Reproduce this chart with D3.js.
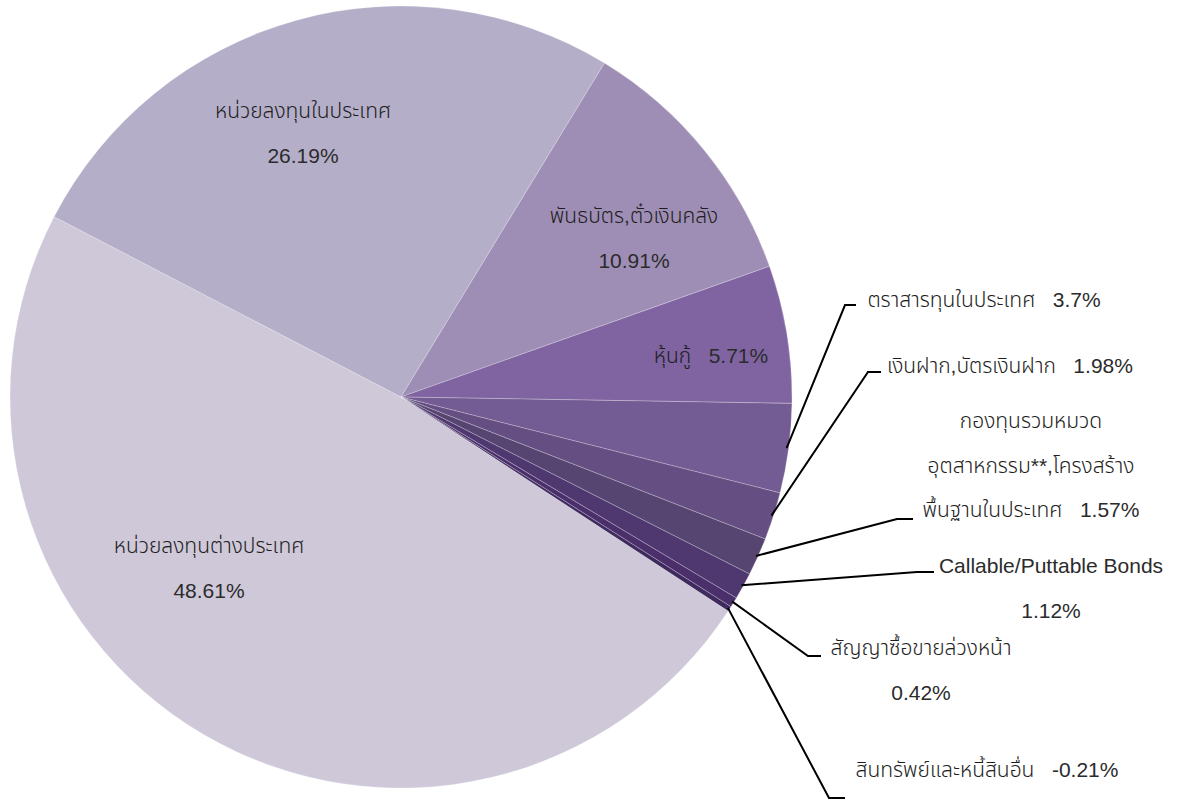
<!DOCTYPE html>
<html>
<head>
<meta charset="utf-8">
<script src="https://cdn.jsdelivr.net/npm/d3@7"></script>
<style>
  body { margin: 0; background: #fff; }
  text { font-family: "Liberation Sans", "Noto Sans Thai", "Noto Sans", sans-serif; font-size: 21px; font-weight: normal; fill: #2b2b2b; white-space: pre; }
  tspan.th { font-family: "Noto Sans Thai", "Liberation Sans", sans-serif; font-weight: 300; fill: #1e1e1e; }
</style>
</head>
<body>
<svg id="chart" width="1178" height="800"></svg>
<script>
// data
var names = ["หน่วยลงทุนต่างประเทศ", "หน่วยลงทุนในประเทศ", "พันธบัตร,ตั๋วเงินคลัง", "หุ้นกู้",
             "ตราสารทุนในประเทศ", "เงินฝาก,บัตรเงินฝาก", "กองทุนรวมหมวดอุตสาหกรรม**,โครงสร้างพื้นฐานในประเทศ",
             "Callable/Puttable Bonds", "สัญญาซื้อขายล่วงหน้า", "สินทรัพย์และหนี้สินอื่น"];
var values = [48.61, 26.19, 10.91, 5.71, 3.7, 1.98, 1.57, 1.12, 0.42, -0.21];
var colors = ["#cec8d9", "#b5aec9", "#9e8eb5", "#7f64a1", "#735b93", "#654f82", "#574571", "#4f3770", "#4b2f6b", "#3e2a5e"];

// label layout (text lines per slice)
var labelLines = [
  ["หน่วยลงทุนต่างประเทศ", "48.61%"],
  ["หน่วยลงทุนในประเทศ", "26.19%"],
  ["พันธบัตร,ตั๋วเงินคลัง", "10.91%"],
  ["หุ้นกู้   5.71%"],
  ["ตราสารทุนในประเทศ   3.7%"],
  ["เงินฝาก,บัตรเงินฝาก   1.98%"],
  ["กองทุนรวมหมวด", "อุตสาหกรรม**,โครงสร้าง", "พื้นฐานในประเทศ   1.57%"],
  ["Callable/Puttable Bonds", "1.12%"],
  ["สัญญาซื้อขายล่วงหน้า", "0.42%"],
  ["สินทรัพย์และหนี้สินอื่น   -0.21%"]
];
// x = centre of the text block, y = first baseline, elbow = leader bend, hx = end of horizontal
var labelPos = [
  {x: 209, y: 553}, {x: 303, y: 118}, {x: 634, y: 223}, {x: 711, y: 363},
  {x: 984, y: 307, elbow: [845, 305], hx: 856},
  {x: 1010, y: 373, elbow: [868, 372], hx: 881},
  {x: 1031, y: 428, elbow: [897, 519], hx: 913},
  {x: 1051, y: 573, elbow: [917, 572], hx: 934},
  {x: 921, y: 655, elbow: [808, 656], hx: 821},
  {x: 987, y: 777, elbow: [829, 798], hx: 845}
];

var cx = 401, cy = 397, radius = 391, lineGap = 44.5;
var svg = d3.select("#chart");
var g = svg.append("g").attr("transform", `translate(${cx},${cy})`);

var data = values.map(function(v, i){ return {name: names[i], value: v, i: i}; });
var start = 123.2 * Math.PI / 180;
var pie = d3.pie().sort(null).value(d => Math.abs(d.value))
            .startAngle(start).endAngle(start + 2 * Math.PI);
var arcs = pie(data);

var arc = d3.arc().innerRadius(0).outerRadius(radius);
var edgeArc = d3.arc().innerRadius(radius - 2).outerRadius(radius - 2);

g.selectAll("path.slice")
  .data(arcs)
  .enter()
  .append("path")
  .attr("class", "slice")
  .attr("d", arc)
  .attr("fill", d => colors[d.data.i])
  .attr("stroke", "rgba(255,255,255,0.35)")
  .attr("stroke-width", 0.7);

// leader lines for the small slices
arcs.forEach(function(d){
  var p = labelPos[d.data.i];
  if (!p.elbow) return;
  var c = edgeArc.centroid(d);
  var pts = [[cx + c[0], cy + c[1]], p.elbow, [p.hx, p.elbow[1]]];
  svg.append("path")
     .attr("d", d3.line()(pts))
     .attr("fill", "none")
     .attr("stroke", "#000")
     .attr("stroke-width", 2);
});

// labels: Thai runs get a lighter weight than the latin / digits
var thai = /([\u0E00-\u0E7F]+)/;
labelLines.forEach(function(lines, i){
  var p = labelPos[i];
  var t = svg.append("text").attr("text-anchor", "middle");
  lines.forEach(function(s, k){
    var runs = s.split(thai).filter(r => r.length);
    runs.forEach(function(r, j){
      var ts = t.append("tspan").classed("th", thai.test(r)).text(r);
      if (j == 0) ts.attr("x", p.x).attr("y", p.y + k * lineGap);
    });
  });
});
</script>
</body>
</html>
